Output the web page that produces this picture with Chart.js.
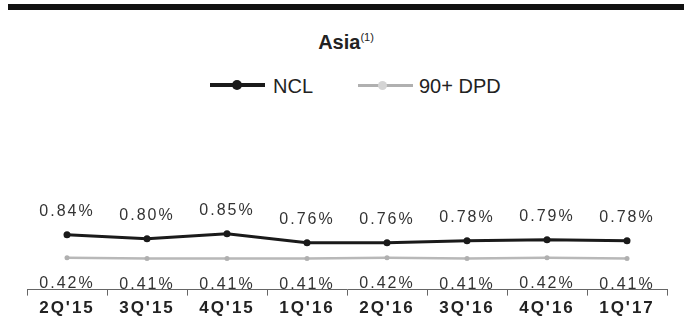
<!DOCTYPE html>
<html>
<head>
<meta charset="utf-8">
<script src="https://cdn.jsdelivr.net/npm/chart.js@4.4.1/dist/chart.umd.min.js"></script>
<style>
  html, body { margin: 0; padding: 0; background: #fff; }
  #wrap { position: relative; width: 684px; height: 329px; overflow: hidden; font-family: "Liberation Sans", Arial, sans-serif; color: #222; }
  #topbar { position: absolute; left: 8px; right: 0; top: 4px; height: 6px; background: #111; }
  #title { position: absolute; left: 0; width: 684px; top: 27px; text-align: center; font-size: 20px; font-weight: bold; line-height: 20px; padding-left: 8px; box-sizing: border-box; }
  #title sup { font-size: 11px; font-weight: normal; vertical-align: 8px; }
  .leg { position: absolute; top: 76px; font-size: 20px; line-height: 20px; }
  .legline { position: absolute; height: 4px; }
  .legdot { position: absolute; border-radius: 50%; }
  canvas { position: absolute; left: 0; top: 0; }
</style>
</head>
<body>
<div id="wrap">
  <div id="topbar"></div>
  <div id="title">Asia<sup>(1)</sup></div>
  <div class="legline" style="left:210px; top:83px; width:55px; background:#1a1a1a;"></div>
  <div class="legdot" style="left:232px; top:80px; width:10px; height:10px; background:#1a1a1a;"></div>
  <div class="leg" style="left:273px;">NCL</div>
  <div class="legline" style="left:358px; top:84px; width:55px; height:3px; background:#b0b0b0;"></div>
  <div class="legdot" style="left:378px; top:81px; width:9px; height:9px; background:#d4d4d4;"></div>
  <div class="leg" style="left:419px;">90+ DPD</div>
  <canvas id="line-chart" width="684" height="329"></canvas>
</div>
<script>
quarters = ["2Q'15","3Q'15","4Q'15","1Q'16","2Q'16","3Q'16","4Q'16","1Q'17"];
ncl = [0.84, 0.80, 0.85, 0.76, 0.76, 0.78, 0.79, 0.78];
dpd = [0.42, 0.41, 0.41, 0.41, 0.42, 0.41, 0.42, 0.41];

fontFamily = '"Liberation Sans", Arial, sans-serif';

// canvas text in the picture is widely spaced
const spacing = {
  id: 'spacing',
  beforeDraw: (chart) => { chart.ctx.letterSpacing = '2px'; }
};

const valueLabels = {
  id: 'valueLabels',
  afterDatasetsDraw: (chart) => {
    const ctx = chart.ctx;
    ctx.save();
    ctx.letterSpacing = '2px';
    ctx.font = '16px ' + fontFamily;
    ctx.fillStyle = '#333';
    ctx.textAlign = 'center';
    ctx.textBaseline = 'middle';
    chart.getDatasetMeta(0).data.forEach((pt, i) => {
      ctx.fillText(ncl[i].toFixed(2) + '%', pt.x, pt.y - 23);
    });
    chart.getDatasetMeta(1).data.forEach((pt, i) => {
      ctx.fillText(dpd[i].toFixed(2) + '%', pt.x, pt.y + 26);
    });
    ctx.restore();
  }
};

linedata = {
  type: 'line',
  data: {
    labels: quarters,
    datasets: [
      {label: 'NCL', data: ncl, yAxisID: 'y', borderColor: '#1a1a1a', backgroundColor: '#1a1a1a',
       borderWidth: 3, pointRadius: 3.5, pointBorderWidth: 0, tension: 0, fill: false},
      {label: '90+ DPD', data: dpd, yAxisID: 'y2', borderColor: '#b8b8b8', backgroundColor: '#b0b0b0',
       borderWidth: 2.5, pointRadius: 2.5, pointBorderWidth: 0, tension: 0, fill: false}
    ]
  },
  options: {
    responsive: false,
    animation: false,
    layout: {padding: {left: 27, right: 17, top: 200, bottom: 7}},
    plugins: {legend: {display: false}, title: {display: false}, tooltip: {enabled: false}},
    scales: {
      x: {
        offset: true,
        border: {display: true, color: '#666', width: 1},
        grid: {offset: true, drawOnChartArea: false, drawTicks: true, tickLength: 6, color: '#666'},
        ticks: {color: '#222', padding: 3, autoSkip: false, maxRotation: 0,
                font: {family: fontFamily, size: 17, weight: 'bold'}}
      },
      y: {display: false, min: 0.29, max: 1.19},
      y2: {display: false, min: 0, max: 1.18}
    }
  },
  plugins: [spacing, valueLabels]
};

new Chart(document.getElementById('line-chart'), linedata);
</script>
</body>
</html>
